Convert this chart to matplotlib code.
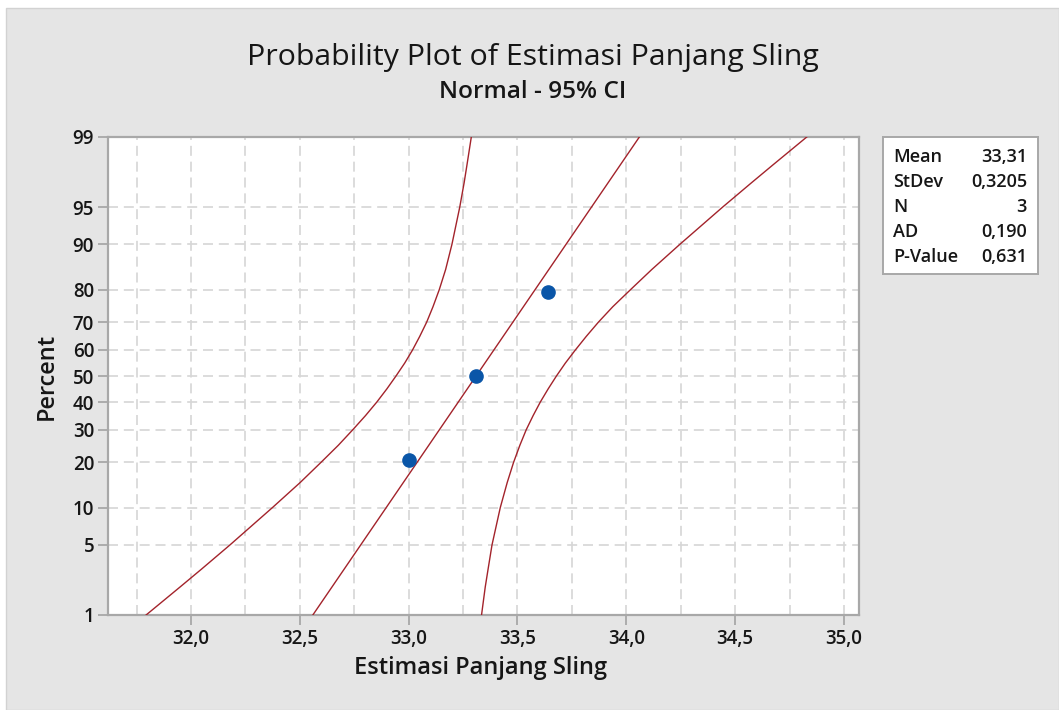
import numpy as np
import matplotlib.pyplot as plt
from matplotlib.patches import Rectangle
from matplotlib.ticker import FixedLocator, NullLocator
from statistics import NormalDist

plt.rcParams['font.family'] = ['Open Sans', 'DejaVu Sans']

# data points (median ranks)
data_x = [33.00, 33.31, 33.64]
data_pct = [20.6, 50.0, 79.4]

# fitted line end points
fit_x = [32.56, 34.06]
fit_pct = [1, 99]

# 95% CI band
ci_pct = [1, 2, 3, 5, 10, 15, 20, 25, 30, 35, 40, 45, 50, 55, 60,
          65, 70, 75, 80, 85, 90, 95, 97, 98, 99]
ci_lower = [31.794, 31.950, 32.048, 32.179, 32.374, 32.502, 32.597, 32.677,
            32.743, 32.802, 32.854, 32.900, 32.942, 32.982, 33.018, 33.051,
            33.083, 33.112, 33.141, 33.170, 33.199, 33.235, 33.255, 33.268,
            33.288]
ci_upper = [33.335, 33.352, 33.365, 33.383, 33.421, 33.453, 33.482, 33.511,
            33.540, 33.572, 33.605, 33.641, 33.679, 33.720, 33.766, 33.816,
            33.872, 33.938, 34.020, 34.117, 34.246, 34.443, 34.575, 34.673,
            34.829]

x_ticks = [32.0, 32.5, 33.0, 33.5, 34.0, 34.5, 35.0]
x_ticklabels = ['32,0', '32,5', '33,0', '33,5', '34,0', '34,5', '35,0']
y_ticks = [1, 5, 10, 20, 30, 40, 50, 60, 70, 80, 90, 95, 99]

stat_names = ['Mean', 'StDev', 'N', 'AD', 'P-Value']
stat_values = ['33,31', '0,3205', '3', '0,190', '0,631']

nd = NormalDist()
_ppf = np.vectorize(nd.inv_cdf, otypes=[float])
_cdf = np.vectorize(nd.cdf, otypes=[float])


def pct_to_z(p):
    p = np.clip(np.asarray(p, dtype=float) / 100.0, 1e-9, 1 - 1e-9)
    return _ppf(p)


def z_to_pct(z):
    return _cdf(np.asarray(z, dtype=float)) * 100.0


W, H = 1059, 710
fig = plt.figure(figsize=(W / 100, H / 100), dpi=100)
fig.patch.set_facecolor('white')
fig.patches.append(Rectangle((6 / W, 0), 1 - 6 / W, 1 - 8 / H, transform=fig.transFigure,
                             facecolor='#e5e5e5', edgecolor='#d2d2d2', lw=1, zorder=-10))

txt = '#161616'
grey = '#a8a8a8'
red = '#a3232b'

ax = fig.add_axes([108 / W, 1 - 615 / H, 751 / W, 478 / H])
ax.set_facecolor('white')
ax.set_yscale('function', functions=(pct_to_z, z_to_pct))

ax.plot(ci_lower, ci_pct, color=red, lw=1.0, zorder=3)
ax.plot(ci_upper, ci_pct, color=red, lw=1.0, zorder=3)
ax.plot(fit_x, fit_pct, color=red, lw=1.0, zorder=3)
ax.plot(data_x, data_pct, 'o', color='#0a56a8', ms=9.5, zorder=4)

ax.set_xlim(31.619, 35.069)
ax.set_ylim(1, 99)
ax.xaxis.set_major_locator(FixedLocator(x_ticks))
ax.set_xticklabels(x_ticklabels)
ax.xaxis.set_minor_locator(FixedLocator(np.arange(31.75, 35.01, 0.25)))
ax.yaxis.set_major_locator(FixedLocator(y_ticks))
ax.set_yticklabels([str(v) for v in y_ticks])
ax.yaxis.set_minor_locator(NullLocator())

ax.tick_params(which='major', direction='out', length=7, width=1.3, color=grey,
               labelsize=13.5, labelcolor=txt, pad=3)
ax.tick_params(which='minor', length=0)
for lab in ax.get_xticklabels() + ax.get_yticklabels():
    lab.set_fontweight('semibold')

ax.grid(which='both', axis='x', color='#d6d6d6', lw=1.2, ls=(0, (6, 3.5)), zorder=1)
ax.grid(which='major', axis='y', color='#d6d6d6', lw=1.2, ls=(0, (6, 3.5)), zorder=1)
for s in ax.spines.values():
    s.set_color(grey)
    s.set_linewidth(1.6)

ax.set_xlabel('Estimasi Panjang Sling', fontsize=17, fontweight='semibold', color=txt, va='center')
ax.xaxis.set_label_coords((481 - 108) / 751, (615 - 668) / 478)
ax.set_ylabel('Percent', fontsize=17, fontweight='semibold', color=txt, va='center')
ax.yaxis.set_label_coords((47 - 108) / 751, 0.5)

fig.text(533 / W, 1 - 57 / H, 'Probability Plot of Estimasi Panjang Sling', ha='center',
         va='center', fontsize=21.8, color=txt)
fig.text(533 / W, 1 - 92 / H, 'Normal - 95% CI', ha='center', va='center',
         fontsize=17.6, fontweight='semibold', color=txt)

# stats box
box = fig.add_axes([883 / W, 1 - 274 / H, 155 / W, 137 / H])
box.set_xticks([])
box.set_yticks([])
box.set_facecolor('white')
for s in box.spines.values():
    s.set_color(grey)
    s.set_linewidth(1.4)
row_y = [156.7, 182.3, 206.7, 231.7, 256.7]
for name, val, yy in zip(stat_names, stat_values, row_y):
    fig.text(893 / W, 1 - yy / H, name, ha='left', va='center', fontsize=13,
             fontweight='semibold', color=txt)
    fig.text(1027 / W, 1 - yy / H, val, ha='right', va='center', fontsize=13,
             fontweight='semibold', color=txt)

fig.savefig('out.png', dpi=100)
